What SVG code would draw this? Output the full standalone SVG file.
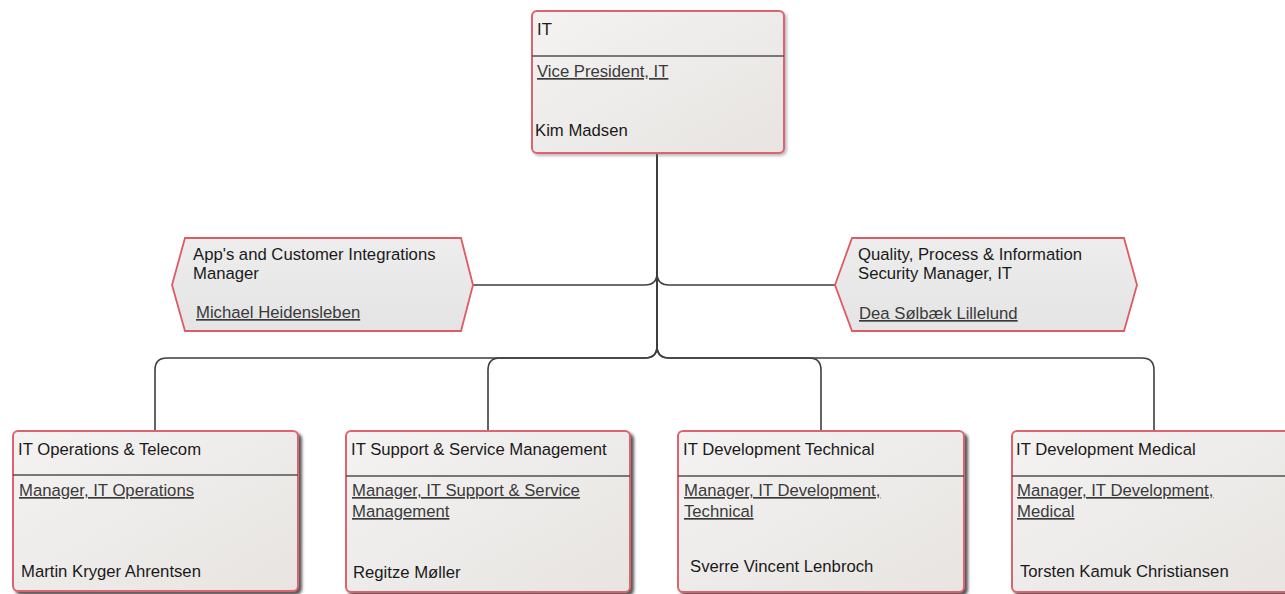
<svg xmlns="http://www.w3.org/2000/svg" width="1285" height="594" viewBox="0 0 1285 594">
<defs>
<linearGradient id="boxfill" x1="0" y1="0" x2="1" y2="1">
<stop offset="0" stop-color="#f4f3f2"/>
<stop offset="1" stop-color="#e7e4e1"/>
</linearGradient>
<linearGradient id="hexfill" x1="0" y1="0" x2="0" y2="1">
<stop offset="0" stop-color="#ededed"/>
<stop offset="1" stop-color="#e4e4e4"/>
</linearGradient>
<filter id="shadow" x="-5%" y="-5%" width="115%" height="115%">
<feDropShadow dx="3" dy="3" stdDeviation="1.5" flood-color="#3a3a3a" flood-opacity="0.85"/>
</filter>
<filter id="shadowlight" x="-5%" y="-5%" width="115%" height="115%">
<feDropShadow dx="2" dy="2" stdDeviation="1.5" flood-color="#777" flood-opacity="0.5"/>
</filter>
</defs>
<style>
.box{fill:url(#boxfill);stroke:#de6470;stroke-width:2}
.hex{fill:url(#hexfill);stroke:#de5a64;stroke-width:1.8}
.div{stroke:#505050;stroke-width:1.6}
.conn{fill:none;stroke:#3e3e3e;stroke-width:1.6}
text{font-family:"Liberation Sans",Arial,sans-serif;font-size:16.7px;fill:#1a1a1a}
.link{fill:#3a3a3a;text-decoration:underline}
</style>
<g id="connectors">
<path class="conn" d="M657,153 V273 Q657,285 645,285 H473"/>
<path class="conn" d="M657,153 V273 Q657,285 669,285 H835"/>
<path class="conn" d="M657,153 V346 Q657,358 645,358 H167 Q155,358 155,370 V431"/>
<path class="conn" d="M657,153 V346 Q657,358 645,358 H500 Q488,358 488,370 V430"/>
<path class="conn" d="M657,153 V346 Q657,358 669,358 H809 Q821,358 821,370 V430"/>
<path class="conn" d="M657,153 V346 Q657,358 669,358 H1142 Q1154,358 1154,370 V431"/>
</g>
<g id="node-it">
<rect class="box" x="532" y="11" width="252" height="142" rx="5" filter="url(#shadowlight)"/>
<line class="div" x1="532" y1="56" x2="784" y2="56"/>
<text x="537" y="35">IT</text>
<text class="link" x="537" y="77">Vice President, IT</text>
<text x="535" y="136">Kim Madsen</text>
</g>
<g id="node-apps">
<polygon class="hex" points="172,285 185,238 461,238 473,285 461,331 185,331"/>
<text x="193" y="260">App's and Customer Integrations</text>
<text x="193" y="279">Manager</text>
<text class="link" x="196" y="318">Michael Heidensleben</text>
</g>
<g id="node-quality">
<polygon class="hex" points="835,285 852,238 1124,238 1137,285 1124,331 852,331"/>
<text x="858" y="260">Quality, Process &amp; Information</text>
<text x="858" y="279">Security Manager, IT</text>
<text class="link" x="859" y="319">Dea Sølbæk Lillelund</text>
</g>
<g id="node-ops">
<rect class="box" x="13" y="431" width="285" height="160" rx="5" filter="url(#shadow)"/>
<line class="div" x1="13" y1="475" x2="298" y2="475"/>
<text x="18" y="455">IT Operations &amp; Telecom</text>
<text class="link" x="19" y="496">Manager, IT Operations</text>
<text x="21" y="577">Martin Kryger Ahrentsen</text>
</g>
<g id="node-support">
<rect class="box" x="346" y="431" width="284" height="161" rx="5" filter="url(#shadow)"/>
<line class="div" x1="346" y1="476" x2="630" y2="476"/>
<text x="351" y="455">IT Support &amp; Service Management</text>
<text class="link" x="352" y="496">Manager, IT Support &amp; Service</text>
<text class="link" x="352" y="517">Management</text>
<text x="353" y="578">Regitze Møller</text>
</g>
<g id="node-devtech">
<rect class="box" x="678" y="431" width="286" height="161" rx="5" filter="url(#shadow)"/>
<line class="div" x1="678" y1="476" x2="964" y2="476"/>
<text x="683" y="455">IT Development Technical</text>
<text class="link" x="684" y="496">Manager, IT Development,</text>
<text class="link" x="684" y="517">Technical</text>
<text x="690" y="572">Sverre Vincent Lenbroch</text>
</g>
<g id="node-devmed">
<rect class="box" x="1012" y="431" width="285" height="161" rx="5" filter="url(#shadow)"/>
<line class="div" x1="1012" y1="476" x2="1297" y2="476"/>
<text x="1016" y="455">IT Development Medical</text>
<text class="link" x="1017" y="496">Manager, IT Development,</text>
<text class="link" x="1017" y="517">Medical</text>
<text x="1020" y="577">Torsten Kamuk Christiansen</text>
</g>
</svg>
